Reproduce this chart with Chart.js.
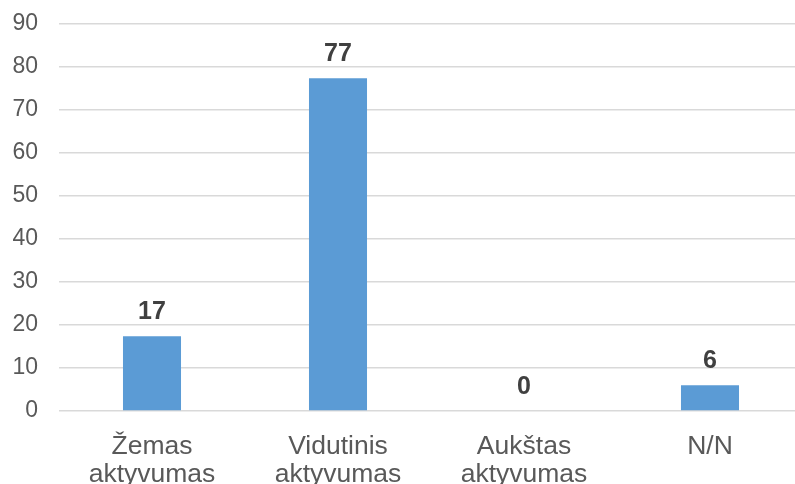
<!DOCTYPE html>
<html>
<head>
<meta charset="utf-8">
<script src="https://cdn.jsdelivr.net/npm/chart.js@4"></script>
<style>
    html, body { margin: 0; padding: 0; background: #fff; overflow: hidden; }
    .chart-box { position: relative; width: 810px; height: 500px; }
</style>
</head>
<body>
<div class="chart-box">
    <canvas id="activityChart"></canvas>
</div>
<script>
// Chart data
const categories = [
    ['Žemas', 'aktyvumas'],
    ['Vidutinis', 'aktyvumas'],
    ['Aukštas', 'aktyvumas'],
    'N/N'
];
const values = [17.4, 77.4, 0, 6];
const yTicks = [0, 10, 20, 30, 40, 50, 60, 70, 80, 90];

const FONT = '"Liberation Sans", Arial, sans-serif';

// Bold value labels above each bar
const valueLabels = {
    id: 'valueLabels',
    afterDatasetsDraw(chart) {
        const ctx = chart.ctx;
        const meta = chart.getDatasetMeta(0);
        ctx.save();
        ctx.font = 'bold 25px ' + FONT;
        ctx.fillStyle = '#404040';
        ctx.textAlign = 'center';
        ctx.textBaseline = 'alphabetic';
        meta.data.forEach((bar, i) => {
            ctx.fillText(String(Math.round(values[i])), bar.x, bar.y - 17);
        });
        ctx.restore();
    }
};

// drop the extra label padding chart.js adds around the plot area
function noEdgePadding(axis) {
    axis.paddingTop = 0;
    axis.paddingBottom = 0;
    axis.paddingLeft = 0;
    axis.paddingRight = 0;
}

new Chart(document.getElementById('activityChart'), {
    type: 'bar',
    data: {
        labels: categories,
        datasets: [{
            data: values,
            backgroundColor: '#5b9bd5',
            borderWidth: 0,
            barPercentage: 1,
            categoryPercentage: 0.312
        }]
    },
    options: {
        responsive: true,
        maintainAspectRatio: false,
        animation: false,
        layout: {
            padding: { left: 12, top: 24, right: 7, bottom: 11 }
        },
        plugins: {
            legend: { display: false },
            tooltip: { enabled: false }
        },
        scales: {
            x: {
                grid: { display: false, drawTicks: false },
                border: { display: false },
                afterFit(axis) {
                    noEdgePadding(axis);
                    axis.height = 78;
                },
                ticks: {
                    color: '#595959',
                    padding: 22,
                    maxRotation: 0,
                    autoSkip: false,
                    font: { family: FONT, size: 26.5, lineHeight: 1.06 }
                }
            },
            y: {
                min: 0,
                max: 90,
                afterBuildTicks(axis) {
                    axis.ticks = yTicks.map(v => ({ value: v }));
                },
                afterFit(axis) {
                    noEdgePadding(axis);
                    axis.width = 47;
                },
                grid: { color: '#d9d9d9', lineWidth: 1.5, drawTicks: false },
                border: { display: false },
                ticks: {
                    color: '#595959',
                    padding: 21,
                    font: { family: FONT, size: 23 }
                }
            }
        }
    },
    plugins: [valueLabels]
});
</script>
</body>
</html>
